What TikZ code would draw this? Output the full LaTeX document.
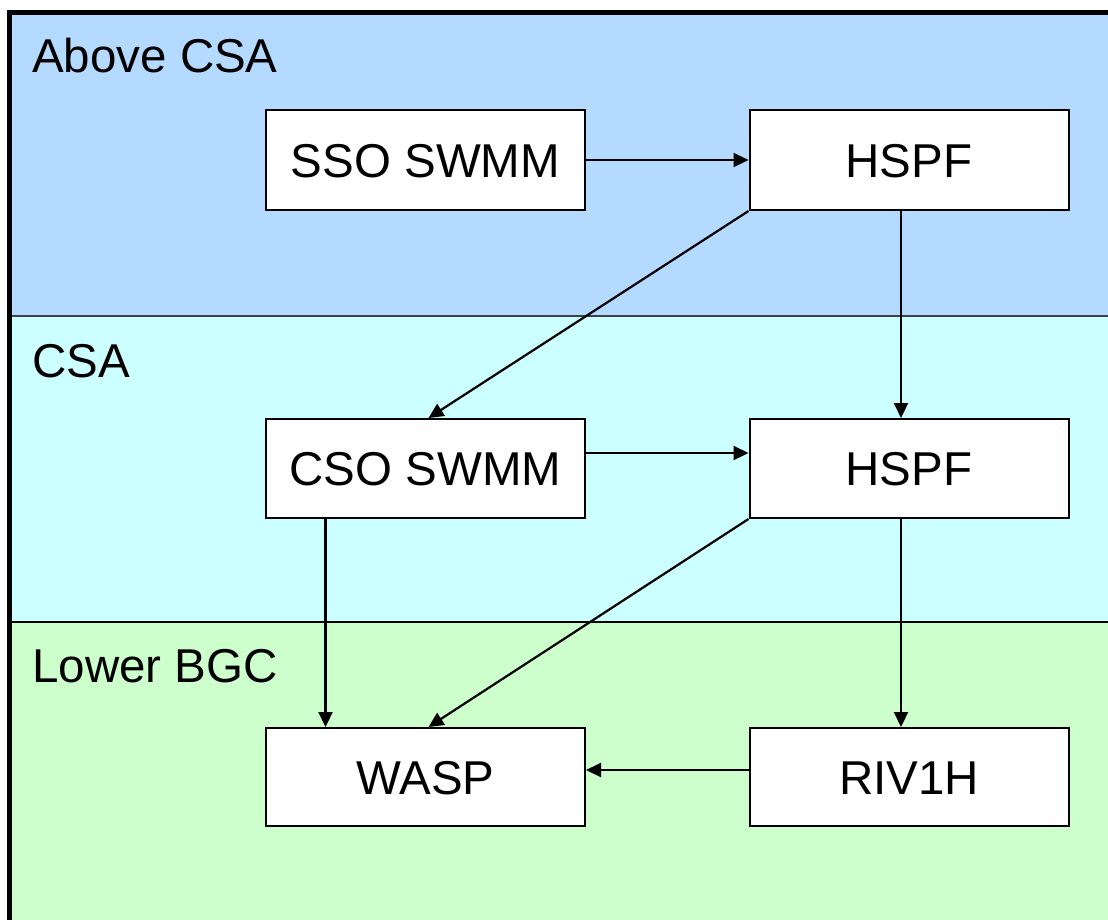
\documentclass[tikz,border=0pt]{standalone}
\usepackage{fontspec}
\setmainfont{Liberation Sans}
\usetikzlibrary{arrows.meta}
\definecolor{bandblue}{RGB}{180,218,255}
\definecolor{bandcyan}{RGB}{204,255,255}
\definecolor{bandgreen}{RGB}{204,255,204}
\begin{document}
\begin{tikzpicture}[x=1pt,y=1pt,
  every node/.style={font=\fontsize{47.5}{56}\selectfont},
  model/.style={draw=black,line width=2pt,fill=white,minimum width=319pt,inner sep=0pt,text height=34pt,text depth=0pt},
  lane/.style={anchor=base west,inner sep=0pt},
  flow/.style={line width=2.2pt,-{Triangle[length=15pt,width=14pt]}}]
\useasboundingbox (0,0) rectangle (1108,-919);
\fill[white] (0,0) rectangle (1108,-919);
\begin{scope}
\clip (0,0) rectangle (1108,-919);
\fill[bandblue] (12,-15) rectangle (1120,-316);
\fill[bandcyan] (12,-316) rectangle (1120,-622);
\fill[bandgreen] (12,-622) rectangle (1120,-930);
\draw[line width=1.2pt,black!75] (12,-316) -- (1120,-316);
\draw[line width=2.2pt,black] (12,-622) -- (1120,-622);
\draw[line width=5pt,black] (9.5,-940) -- (9.5,-12.5) -- (1130,-12.5);
\end{scope}
\node[lane] (l1) at (32,-72) {Above CSA};
\node[lane] (l2) at (32,-377) {CSA};
\node[lane] (l3) at (32,-682) {Lower BGC};
\node[model,minimum height=100pt] (sso) at (425.5,-160) {SSO SWMM};
\node[model,minimum height=100pt] (h1) at (909,-160) {HSPF};
\node[model,minimum height=99pt] (cso) at (425.5,-468.5) {CSO SWMM};
\node[model,minimum height=99pt] (h2) at (909,-468.5) {HSPF};
\node[model,minimum height=98pt] (wasp) at (425.5,-777) {WASP};
\node[model,minimum height=98pt] (riv) at (909,-777) {RIV1H};
\draw[flow] (sso.east) -- (h1.west);
\draw[flow] (h1.south west) -- ([xshift=3pt]cso.north);
\draw[flow] ([xshift=-8pt]h1.south) -- ([xshift=-8pt]h2.north);
\draw[flow] ([yshift=15.5pt]cso.east) -- ([yshift=15.5pt]h2.west);
\draw[flow] ([xshift=-100pt]cso.south) -- ([xshift=-100pt]wasp.north);
\draw[flow] (h2.south west) -- ([xshift=3pt]wasp.north);
\draw[flow] ([xshift=-8pt]h2.south) -- ([xshift=-8pt]riv.north);
\draw[flow] ([yshift=7pt]riv.west) -- ([yshift=7pt]wasp.east);
\end{tikzpicture}
\end{document}
